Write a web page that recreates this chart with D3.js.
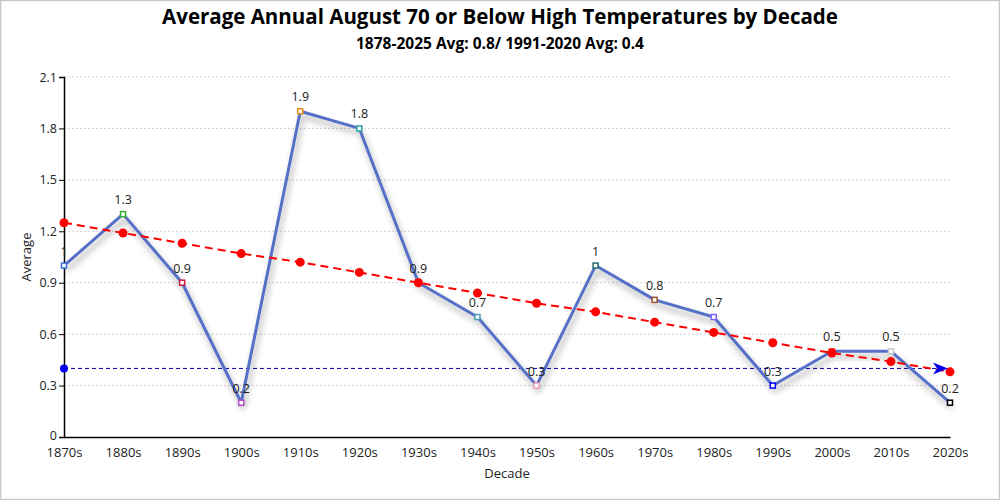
<!DOCTYPE html>
<html>
<head>
<meta charset="utf-8">
<script src="https://cdn.jsdelivr.net/npm/d3@7/dist/d3.min.js"></script>
<style>
  html, body { margin: 0; padding: 0; background: #fff; }
  svg { display: block; font-family: "Open Sans", "Noto Sans", sans-serif; }
</style>
</head>
<body>
<svg id="chart" width="1000" height="500"></svg>
<script>
const decades = ["1870s","1880s","1890s","1900s","1910s","1920s","1930s","1940s","1950s","1960s","1970s","1980s","1990s","2000s","2010s","2020s"];
const averages = [1, 1.3, 0.9, 0.2, 1.9, 1.8, 0.9, 0.7, 0.3, 1, 0.8, 0.7, 0.3, 0.5, 0.5, 0.2];
const trend = [1.25, 1.19, 1.13, 1.07, 1.02, 0.96, 0.90, 0.84, 0.78, 0.73, 0.67, 0.61, 0.55, 0.49, 0.44, 0.38];
const normalAvg = 0.4;
const markerColors = ["#3d6fd6","#33b233","#d2193c","#b04fc4","#e8891a","#26a69a","#2f7fa0","#4c9bb0","#eaa0b4","#1f6f6f","#a0522d","#7b68ee","#0000ff","#e86030","#c8c8c8","#000000"];
const yTicks = [0, 0.3, 0.6, 0.9, 1.2, 1.5, 1.8, 2.1];
const titleText = "Average Annual August 70 or Below High Temperatures by Decade";
const subtitleText = "1878-2025 Avg: 0.8/ 1991-2020 Avg: 0.4";

const svg = d3.select("#chart");
const W = 1000, H = 500;
const m = {left: 64, right: 50, top: 77, bottom: 63};

// border
svg.append("rect").attr("x", 0.5).attr("y", 0.5).attr("width", W - 1).attr("height", H - 1)
  .attr("fill", "#fff").attr("stroke", "#c8c8c8").attr("stroke-width", 1.5);

const defs = svg.append("defs");
const f = defs.append("filter").attr("id", "shadow").attr("x", "-10%").attr("y", "-10%").attr("width", "120%").attr("height", "130%");
f.append("feDropShadow").attr("dx", 2).attr("dy", 5).attr("stdDeviation", 3)
  .attr("flood-color", "#000").attr("flood-opacity", 0.35);

const x = d3.scalePoint().domain(decades).range([m.left, W - m.right]);
const y = d3.scaleLinear().domain([0, 2.1]).range([H - m.bottom, m.top]);

// grid
svg.append("g").selectAll("line").data(yTicks.filter(d => d > 0)).join("line")
  .attr("x1", m.left).attr("x2", W - m.right)
  .attr("y1", d => y(d)).attr("y2", d => y(d))
  .attr("stroke", "#d0d0d0").attr("stroke-dasharray", "2,2").attr("stroke-width", 1);

// axes
const yAxis = svg.append("g").attr("transform", `translate(${m.left},0)`)
  .call(d3.axisLeft(y).tickValues(yTicks).tickFormat(d => d === 0 ? "0" : d3.format(".1f")(d)).tickSize(5).tickPadding(2));
yAxis.select(".domain").attr("stroke", "#000").attr("stroke-width", 1.5);
yAxis.selectAll("text").attr("font-size", 12.5).attr("fill", "#222").attr("font-family", "'Open Sans', sans-serif");
yAxis.selectAll(".tick text").filter(d => d === 0).attr("dy", "0.2em");

const xAxis = svg.append("g").attr("transform", `translate(0,${H - m.bottom})`)
  .call(d3.axisBottom(x).tickSize(0).tickPadding(11));
xAxis.select(".domain").attr("stroke", "#000").attr("stroke-width", 1.5);
xAxis.selectAll("text").attr("font-size", 13).attr("fill", "#222").attr("font-family", "'Open Sans', sans-serif");

// axis titles
svg.append("text").attr("x", m.left + (W - m.left - m.right) / 2).attr("y", 478)
  .attr("text-anchor", "middle").attr("font-size", 13).attr("fill", "#222").text("Decade");
svg.append("text").attr("transform", `translate(31,${(m.top + H - m.bottom) / 2}) rotate(-90)`)
  .attr("text-anchor", "middle").attr("font-size", 13).attr("fill", "#222").text("Average");

// normal avg line
const x0 = x(decades[0]), x1 = x(decades[decades.length - 1]);
svg.append("line").attr("x1", x0).attr("x2", x1 - 8).attr("y1", y(normalAvg)).attr("y2", y(normalAvg))
  .attr("stroke", "#0000b0").attr("stroke-width", 1).attr("stroke-dasharray", "4,3");
svg.append("circle").attr("cx", x0).attr("cy", y(normalAvg)).attr("r", 4).attr("fill", "#0000ee");

// main line
const line = d3.line().x((d, i) => x(decades[i])).y(d => y(d));
svg.append("path").datum(averages).attr("d", line).attr("fill", "none")
  .attr("stroke", "#5470c6").attr("stroke-width", 3).attr("stroke-linejoin", "round")
  .attr("filter", "url(#shadow)");

svg.append("g").selectAll("rect").data(averages).join("rect")
  .attr("x", (d, i) => x(decades[i]) - 2.5).attr("y", d => y(d) - 2.5)
  .attr("width", 5).attr("height", 5)
  .attr("fill", "#fff").attr("stroke", (d, i) => markerColors[i]).attr("stroke-width", 1.5);

// trend line
svg.append("path").datum(trend).attr("d", line).attr("fill", "none")
  .attr("stroke", "#ff0000").attr("stroke-width", 2).attr("stroke-dasharray", "8,5");
svg.append("g").selectAll("circle").data(trend).join("circle")
  .attr("cx", (d, i) => x(decades[i])).attr("cy", d => y(d)).attr("r", 4.5).attr("fill", "#ff0000");

// arrow at end of normal line
const ay = y(normalAvg), ax = x1 - 2;
svg.append("path")
  .attr("d", `M${ax},${ay} L${ax - 15},${ay - 6} L${ax - 11},${ay} L${ax - 15},${ay + 6} Z`)
  .attr("fill", "#0000ee");

// value labels
svg.append("g").selectAll("text").data(averages).join("text")
  .attr("x", (d, i) => x(decades[i])).attr("y", d => y(d) - 10)
  .attr("text-anchor", "middle").attr("font-size", 12.5).attr("fill", "#222")
  .text(d => String(d));

// titles
svg.append("text").attr("x", W / 2).attr("y", 24).attr("text-anchor", "middle")
  .attr("font-size", 20.5).attr("font-weight", "bold").attr("fill", "#000").text(titleText);
svg.append("text").attr("x", W / 2).attr("y", 49).attr("text-anchor", "middle")
  .attr("font-size", 15.5).attr("font-weight", "bold").attr("fill", "#000").text(subtitleText);
</script>
</body>
</html>
